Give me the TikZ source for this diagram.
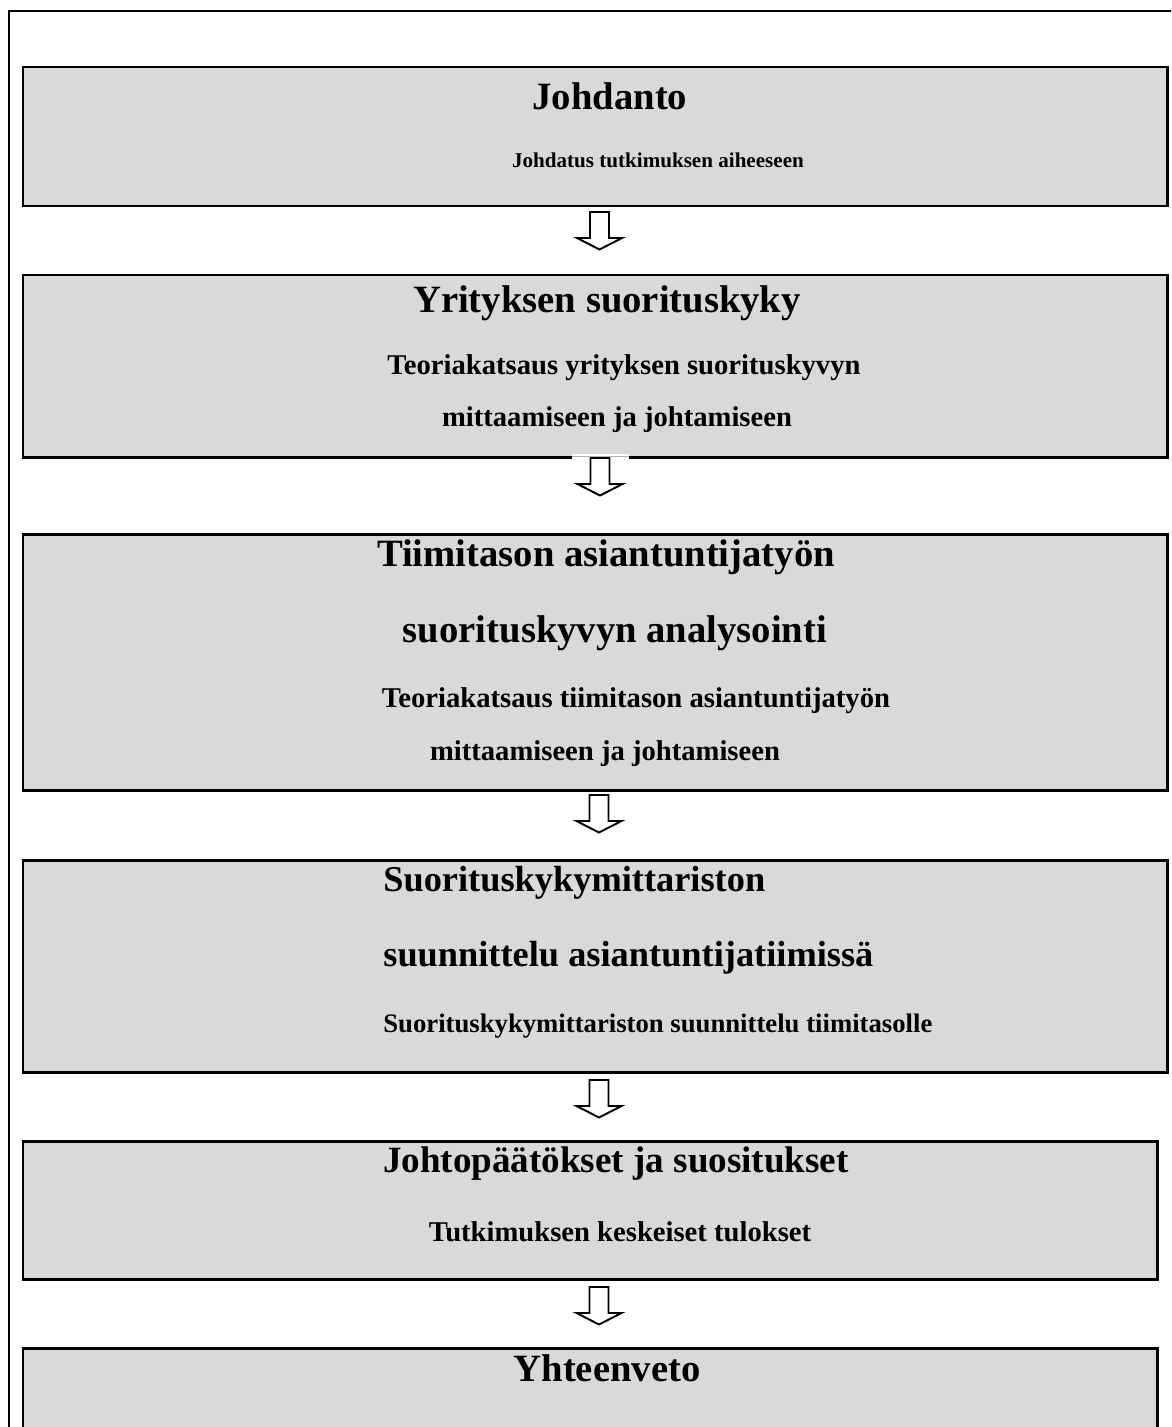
\documentclass[tikz,border=0pt]{standalone}
\usepackage{fontspec}
\setmainfont{Liberation Serif}
\usetikzlibrary{fit}
\definecolor{boxgray}{HTML}{D9D9D9}
\tikzset{
  box/.style={draw,line width=1.7pt,fill=boxgray,inner sep=0pt},
  head/.style={font=\fontsize{22}{26}\selectfont\bfseries},
  sub/.style={font=\fontsize{16.3}{19}\selectfont\bfseries},
  arrowline/.style={draw,line width=1.1pt,fill=white,line join=miter},
  downarrow/.pic={
    \path[arrowline] (-9.5,0) -- (9.5,0) -- (9.5,26) -- (22.5,26) -- (0,37.5)
      -- (-22.5,26) -- (-9.5,26) -- cycle;
  }
}

\begin{document}
\begin{tikzpicture}[x=0.02cm,y=-0.02cm]
  \clip (0,0) rectangle (1171,1427);
  % outer frame
  \draw[line width=1.7pt] (1200,11) -- (9,11) -- (9,1460);

  % boxes
  \node[box,fit={(23,67) (1167,206)}] (b1) {};
  \node[box,fit={(23,275) (1167,457)}] (b2) {};
  \node[box,fit={(23,534) (1167,790)}] (b3) {};
  \node[box,fit={(23,860) (1167,1072)}] (b4) {};
  \node[box,fit={(23,1141) (1157,1279)}] (b5) {};
  \node[box,fit={(23,1348) (1157,1460)}] (b6) {};

  % texts
  \node[head] (t1) at (610,96) {Johdanto};
  \node[sub,font=\fontsize{12}{14}\selectfont\bfseries] (s1) at (658,160) {Johdatus tutkimuksen aiheeseen};

  \node[head] (t2) at (607,303) {Yrityksen suorituskyky};
  \node[sub] (s2a) at (624,368) {Teoriakatsaus yrityksen suorituskyvyn};
  \node[sub] (s2b) at (617,420) {mittaamiseen ja johtamiseen};

  \node[head] (t3a) at (606,557) {Tiimitason asiantuntijatyön};
  \node[head] (t3b) at (615,633) {suorituskyvyn analysointi};
  \node[sub] (s3a) at (636,701) {Teoriakatsaus tiimitason asiantuntijatyön};
  \node[sub] (s3b) at (605,754) {mittaamiseen ja johtamiseen};

  \node[head,font=\fontsize{20.7}{24}\selectfont\bfseries,anchor=west,inner xsep=0pt] (t4a) at (383,883) {Suorituskykymittariston};
  \node[head,font=\fontsize{20.7}{24}\selectfont\bfseries,anchor=west,inner xsep=0pt] (t4b) at (383,958) {suunnittelu asiantuntijatiimissä};
  \node[sub,font=\fontsize{15.2}{18}\selectfont\bfseries,anchor=west,inner xsep=0pt] (s4) at (383,1026) {Suorituskykymittariston suunnittelu tiimitasolle};

  \node[head,font=\fontsize{21.1}{25}\selectfont\bfseries] (t5) at (616,1164) {Johtopäätökset ja suositukset};
  \node[sub] (s5) at (620,1232) {Tutkimuksen keskeiset tulokset};

  \node[head] (t6) at (607,1368) {Yhteenveto};

  % arrows
  \pic at (599.5,212) {downarrow};
  \fill[white] (572,454) rectangle (629,460);
  \draw[gray!60,line width=0.4pt] (572,456) -- (629,456);
  \pic at (600,458) {downarrow};
  \pic at (599,795) {downarrow};
  \pic at (599,1080) {downarrow};
  \pic at (599,1287) {downarrow};
\end{tikzpicture}
\end{document}
